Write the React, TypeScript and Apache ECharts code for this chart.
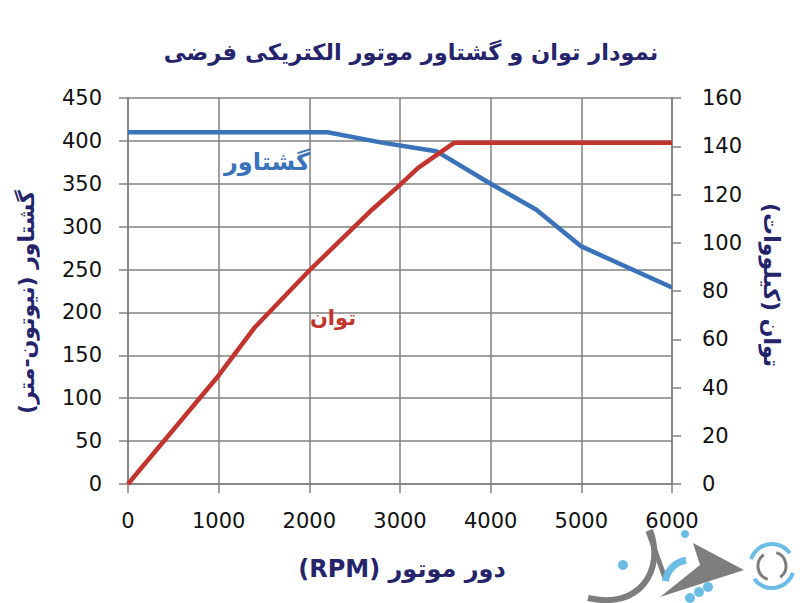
import React, { useEffect, useRef } from "react";
import * as echarts from "echarts";

const RLE = "\u202B";
const PDF = "\u202C";
const titleText = "نمودار توان و گشتاور موتور الکتریکی فرضی";
const xName = "دور موتور (RPM)";
const leftName = "گشتاور (نیوتون-متر)";
const rightName = "توان (کیلووات)";
const torqueLabel = "گشتاور";
const powerLabel = "توان";

const torqueRpm = [0, 2200, 2800, 3400, 4000, 4500, 5000, 6000];
const torqueNm = [410, 410, 398, 388, 350, 320, 277, 229];
const powerRpm = [0, 1000, 1400, 2000, 2700, 3000, 3200, 3600, 6000];
const powerKw = [0, 45, 65, 88.5, 114, 124, 131, 141.5, 141.5];

const NAVY = "#25246b";
const BLUE = "#3a73b9";
const RED = "#c2352f";
const GRID = "#808080";
const FONT = "'DejaVu Sans', Verdana, sans-serif";

const rtl = (s: string) => RLE + s + PDF;

export default function App() {
  const ref = useRef<HTMLDivElement>(null);
  useEffect(() => {
    if (!ref.current) return;
    const chart = echarts.init(ref.current, undefined, { renderer: "svg" });
    const torqueData = torqueRpm.map((r, i) => [r, torqueNm[i]]);
    const powerData = powerRpm.map((r, i) => [r, powerKw[i]]);
    const axisLabel = { color: "#111", fontSize: 21, fontFamily: FONT };
    chart.setOption({
      animation: false,
      backgroundColor: "#fff",
      grid: { left: 128, right: 128, top: 98, bottom: 119, containLabel: false },
      xAxis: {
        type: "value",
        min: 0,
        max: 6000,
        interval: 1000,
        axisLine: { show: true, lineStyle: { color: GRID, width: 1.5 } },
        axisTick: { show: true, length: 9, lineStyle: { color: GRID, width: 1.5 } },
        axisLabel: { ...axisLabel, margin: 26, formatter: (v: number) => String(v) },
        splitLine: { show: true, lineStyle: { color: GRID, width: 1.5 } },
      },
      yAxis: [
        {
          type: "value",
          min: 0,
          max: 450,
          interval: 50,
          axisLine: { show: true, lineStyle: { color: GRID, width: 1.5 } },
          axisTick: { show: true, length: 9, lineStyle: { color: GRID, width: 1.5 } },
          axisLabel: { ...axisLabel, margin: 26 },
          splitLine: { show: true, lineStyle: { color: GRID, width: 1.5 } },
        },
        {
          type: "value",
          min: 0,
          max: 160,
          interval: 20,
          position: "right",
          axisLine: { show: true, lineStyle: { color: GRID, width: 1.5 } },
          axisTick: { show: true, length: 9, lineStyle: { color: GRID, width: 1.5 } },
          axisLabel: { ...axisLabel, margin: 30 },
          splitLine: { show: false },
        },
      ],
      series: [
        {
          name: torqueLabel,
          type: "line",
          yAxisIndex: 0,
          data: torqueData,
          showSymbol: false,
          symbol: "none",
          lineStyle: { color: BLUE, width: 4.5 },
          z: 3,
        },
        {
          name: powerLabel,
          type: "line",
          yAxisIndex: 1,
          data: powerData,
          showSymbol: false,
          symbol: "none",
          lineStyle: { color: RED, width: 4.5 },
          z: 4,
        },
      ],
      graphic: [
        {
          type: "text",
          x: 411,
          y: 52,
          style: {
            text: rtl(titleText),
            fill: NAVY,
            font: `bold 22.5px ${FONT}`,
            textAlign: "center",
            textVerticalAlign: "middle",
          },
        },
        {
          type: "text",
          x: 402,
          y: 569,
          style: {
            text: rtl(xName),
            fill: NAVY,
            font: `bold 24px ${FONT}`,
            textAlign: "center",
            textVerticalAlign: "middle",
          },
        },
        {
          type: "text",
          x: 26,
          y: 302,
          rotation: Math.PI / 2,
          style: {
            text: rtl(leftName),
            fill: NAVY,
            font: `bold 22px ${FONT}`,
            textAlign: "center",
            textVerticalAlign: "middle",
          },
        },
        {
          type: "text",
          x: 771,
          y: 285,
          rotation: -Math.PI / 2,
          style: {
            text: rtl(rightName),
            fill: NAVY,
            font: `bold 22px ${FONT}`,
            textAlign: "center",
            textVerticalAlign: "middle",
          },
        },
        {
          type: "text",
          x: 267,
          y: 162,
          z: 10,
          style: {
            text: torqueLabel,
            fill: BLUE,
            font: `bold 24px ${FONT}`,
            textAlign: "center",
            textVerticalAlign: "middle",
          },
        },
        {
          type: "text",
          x: 333,
          y: 318,
          z: 10,
          style: {
            text: powerLabel,
            fill: RED,
            font: `bold 21px ${FONT}`,
            textAlign: "center",
            textVerticalAlign: "middle",
          },
        },
        {
          type: "group",
          z: 20,
          children: [
            {
              type: "bezierCurve",
              shape: { x1: 588, y1: 598, cpx1: 640, cpy1: 610, cpx2: 665, cpy2: 570, x2: 650, y2: 530 },
              style: { stroke: "#7d7d7d", lineWidth: 6, fill: "none" },
            },
            {
              type: "line",
              shape: { x1: 648, y1: 531, x2: 665, y2: 578 },
              style: { stroke: "#7d7d7d", lineWidth: 5 },
            },
            {
              type: "polygon",
              shape: { points: [[660, 597], [744, 570], [693, 543], [700, 565]] },
              style: { fill: "#7d7d7d" },
            },
            {
              type: "arc",
              shape: { cx: 690, cy: 585, r: 25, startAngle: Math.PI * 1.05, endAngle: Math.PI * 1.45 },
              style: { stroke: "#6cbde6", lineWidth: 7, fill: "none" },
            },
            { type: "circle", shape: { cx: 623, cy: 565, r: 5 }, style: { fill: "#6cbde6" } },
            { type: "circle", shape: { cx: 685, cy: 534, r: 4 }, style: { fill: "#6cbde6" } },
            { type: "circle", shape: { cx: 690, cy: 598, r: 5 }, style: { fill: "#6cbde6" } },
            { type: "circle", shape: { cx: 699, cy: 592, r: 5 }, style: { fill: "#6cbde6" } },
            { type: "circle", shape: { cx: 708, cy: 587, r: 5 }, style: { fill: "#6cbde6" } },
            {
              type: "arc",
              shape: { cx: 772, cy: 566, r: 22, startAngle: -Math.PI * 0.9, endAngle: -Math.PI * 0.2 },
              style: { stroke: "#6cbde6", lineWidth: 4, fill: "none" },
            },
            {
              type: "arc",
              shape: { cx: 772, cy: 566, r: 22, startAngle: Math.PI * 0.1, endAngle: Math.PI * 0.8 },
              style: { stroke: "#6cbde6", lineWidth: 4, fill: "none" },
            },
            {
              type: "arc",
              shape: { cx: 772, cy: 566, r: 14, startAngle: -Math.PI * 0.4, endAngle: Math.PI * 0.3 },
              style: { stroke: "#7d7d7d", lineWidth: 3, fill: "none" },
            },
            {
              type: "arc",
              shape: { cx: 772, cy: 566, r: 14, startAngle: Math.PI * 0.6, endAngle: Math.PI * 1.3 },
              style: { stroke: "#7d7d7d", lineWidth: 3, fill: "none" },
            },
          ],
        },
      ],
    });
    return () => chart.dispose();
  }, []);
  return (
    <div
      ref={ref}
      style={{ position: "absolute", left: 0, top: 0, width: 800, height: 603 }}
    />
  );
}
